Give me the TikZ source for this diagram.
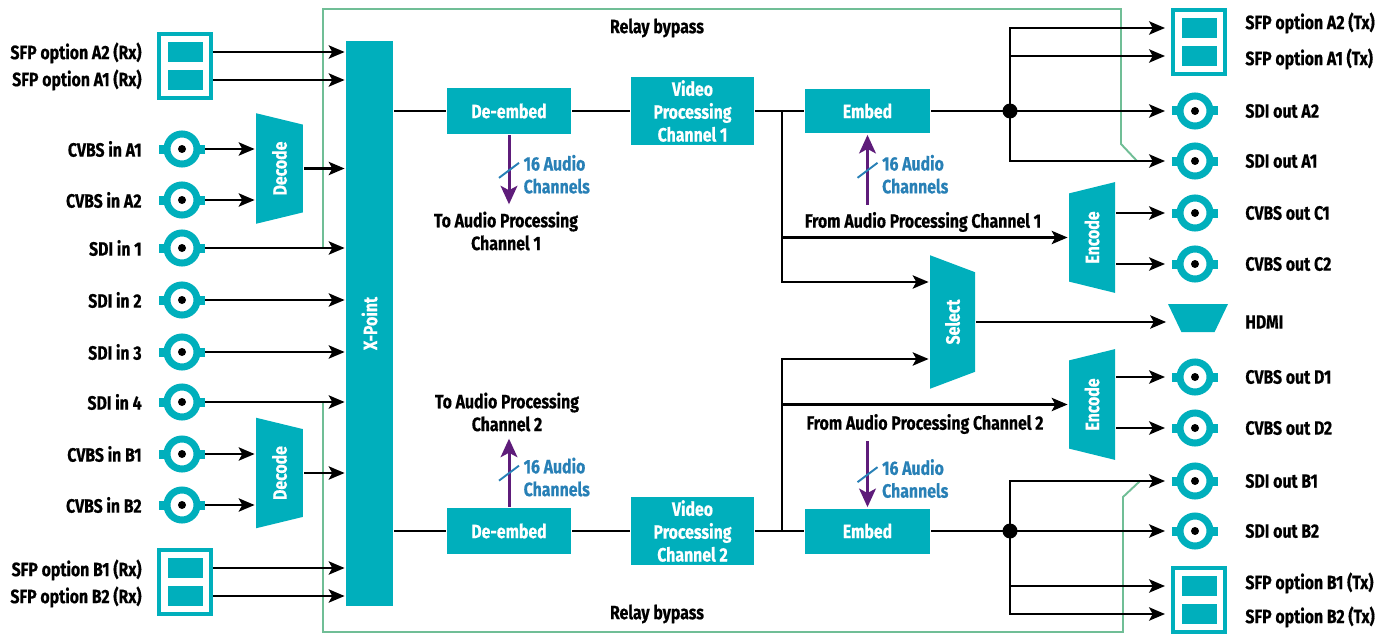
\documentclass[tikz,border=0pt]{standalone}
\usepackage{fontspec}
\setmainfont{Fira Sans}[FakeStretch=0.82, BoldFeatures={FakeBold=0.5}]
\usetikzlibrary{arrows.meta}
\usetikzlibrary{shapes.geometric}
\usetikzlibrary{calc}
\definecolor{boxcol}{RGB}{0,175,188}
\definecolor{audcol}{RGB}{94,28,122}
\definecolor{chcol}{RGB}{40,128,182}
\definecolor{relcol}{RGB}{112,190,150}

\tikzset{
  bnc/.pic={
    \fill[boxcol] (-23,-4.5) rectangle (23,4.5);
    \node[circle, draw=boxcol, fill=white, line width=4pt, minimum size=0.6cm, inner sep=0pt] (-c) {};
    \fill (0,0) circle (0.08cm);
    \coordinate (-o) at (23,0);
    \coordinate (-i) at (-30,0);
  },
  sfp/.pic={
    \node[draw=boxcol, fill=white, line width=2.3pt, minimum width=1.04cm, minimum height=1.28cm, inner sep=0pt] (-box) {};
    \fill[boxcol] (-17.5,-24) rectangle (17.5,-4);
    \fill[boxcol] (-17.5,4) rectangle (17.5,24);
    \coordinate (-oa) at (28,-14);
    \coordinate (-ob) at (28,14);
    \coordinate (-ia) at (-34,-14);
    \coordinate (-ib) at (-34,14);
  }
}

\begin{document}
\begin{tikzpicture}[x=0.02cm, y=-0.02cm,
    font=\fontsize{11}{13}\selectfont\bfseries,
    line width=1.6pt,
    arr/.style={-{Stealth[length=9pt, width=7.5pt, inset=2pt]}},
    aud/.style={draw=audcol, line width=1.7pt, -{Stealth[length=10.5pt, width=9.5pt, inset=2.5pt]}},
    chtick/.style={draw=chcol, line width=1.1pt},
    chlbl/.style={text=chcol, align=left, inner sep=0pt, yshift=-2.5pt},
    relay/.style={draw=relcol, line width=1.1pt},
    blk/.style={rectangle, fill=boxcol, text=white, inner sep=0pt, align=center},
    trap/.style={trapezium, trapezium stretches=true, rotate=90, fill=boxcol, text=white, inner sep=0pt},
    lbl/.style={align=center},
    lft/.style={anchor=east, inner sep=0pt},
    rgt/.style={anchor=west, inner sep=0pt}]
  \useasboundingbox (0,0) rectangle (1389,635);

  % relay bypass
  \draw[relay] (323,248) -- (323,9) -- (1121,9) -- (1121,144) -- (1137,161);
  \draw[relay] (323,403) -- (323,632) -- (1123,632) -- (1123,497) -- (1140,481);
  \node (relT) at (657,28) {Relay bypass};
  \node (relB) at (657,614) {Relay bypass};

  \node[blk, minimum width=0.94cm, minimum height=11.3cm] (xpt) at (369.5,323.5) {\rotatebox{90}{X-Point}};
  \node[trap, shape border rotate=180, trapezium angle=65, minimum width=2.22cm, minimum height=0.94cm] (decA) at (279.5,168.5) {Decode};
  \node[trap, shape border rotate=180, trapezium angle=65, minimum width=2.22cm, minimum height=0.94cm] (decB) at (279.5,473) {Decode};

  % inputs
  \foreach \n/\y/\t in {cvA1/149/CVBS in A1, cvA2/200/CVBS in A2, sdi1/248/SDI in 1, sdi2/300/SDI in 2,
      sdi3/352/SDI in 3, sdi4/402/SDI in 4, cvB1/454/CVBS in B1, cvB2/505/CVBS in B2}{
    \pic (\n) at (182,\y) {bnc};
    \node[lft] (\n-l) at (143,\y) {\t};
  }
  \foreach \n in {sdi1,sdi2,sdi3,sdi4}
    \draw[arr] (\n-o) -- (\n-o -| xpt.west);
  \foreach \n in {cvA1,cvA2}
    \draw[arr] (\n-o) -- (\n-o -| decA.north);
  \foreach \n in {cvB1,cvB2}
    \draw[arr] (\n-o) -- (\n-o -| decB.north);
  \draw[arr] (decA.south) -- (decA.south -| xpt.west);
  \draw[arr] (decB.south) -- (decB.south -| xpt.west);

  \pic (sfpA) at (185,66) {sfp};
  \pic (sfpB) at (185,582) {sfp};
  \node[lft] (sfpA-l1) at (143,53) {SFP option A2 (Rx)};
  \node[lft] (sfpA-l2) at (143,80) {SFP option A1 (Rx)};
  \node[lft] (sfpB-l1) at (143,570) {SFP option B1 (Rx)};
  \node[lft] (sfpB-l2) at (143,597) {SFP option B2 (Rx)};
  \foreach \n in {sfpA-oa,sfpA-ob,sfpB-oa,sfpB-ob}
    \draw[arr] (\n) -- (\n -| xpt.west);

  % channel 1
  \node[blk, minimum width=2.48cm, minimum height=0.92cm] (deA) at (509,111) {De-embed};
  \node[blk, minimum width=2.46cm, minimum height=1.38cm] (vpA) at (692.5,111) {Video\\Processing\\Channel 1};
  \node[blk, minimum width=2.5cm, minimum height=0.9cm] (emA) at (867.5,111) {Embed};
  \coordinate (brA) at (782,111);
  \coordinate (jA) at (1010,111);
  \draw (xpt.east |- deA) -- (deA) -- (vpA) -- (emA) -- (jA);
  \fill (jA) circle (0.15cm);

  % channel 2
  \node[blk, minimum width=2.48cm, minimum height=0.92cm] (deB) at (509,531) {De-embed};
  \node[blk, minimum width=2.46cm, minimum height=1.38cm] (vpB) at (692.5,531) {Video\\Processing\\Channel 2};
  \node[blk, minimum width=2.5cm, minimum height=0.9cm] (emB) at (867.5,531) {Embed};
  \coordinate (brB) at (782,531);
  \coordinate (jB) at (1010,531);
  \draw (xpt.east |- deB) -- (deB) -- (vpB) -- (emB) -- (jB);
  \fill (jB) circle (0.15cm);

  % outputs
  \foreach \n/\y/\t in {sdoA2/111/SDI out A2, sdoA1/161/SDI out A1, cvC1/213/CVBS out C1, cvC2/264/CVBS out C2,
      cvD1/377/CVBS out D1, cvD2/428/CVBS out D2, sdoB1/481/SDI out B1, sdoB2/531/SDI out B2}{
    \pic (\n) at (1195,\y) {bnc};
    \node[rgt] (\n-l) at (1244,\y) {\t};
  }
  \pic (sfpAt) at (1199,42) {sfp};
  \pic (sfpBt) at (1199,600) {sfp};
  \node[rgt] (sfpAt-l1) at (1244,23) {SFP option A2 (Tx)};
  \node[rgt] (sfpAt-l2) at (1244,59) {SFP option A1 (Tx)};
  \node[rgt] (sfpBt-l1) at (1244,583) {SFP option B1 (Tx)};
  \node[rgt] (sfpBt-l2) at (1244,617) {SFP option B2 (Tx)};

  \draw[arr] (jA) |- (sfpAt-ia);
  \draw[arr] (jA) |- (sfpAt-ib);
  \draw[arr] (jA) -- (sdoA2-i);
  \draw[arr] (jA) |- (sdoA1-i);
  \draw[arr] (jB) |- (sdoB1-i);
  \draw[arr] (jB) -- (sdoB2-i);
  \draw[arr] (jB) |- (sfpBt-ia);
  \draw[arr] (jB) |- (sfpBt-ib);

  % encode and select
  \node[trap, trapezium angle=66, minimum width=2.22cm, minimum height=0.92cm] (encC) at (1092,237.5) {Encode};
  \node[trap, trapezium angle=66, minimum width=2.22cm, minimum height=0.92cm] (encD) at (1092,404.5) {Encode};
  \node[trap, shape border rotate=180, trapezium angle=63, minimum width=2.68cm, minimum height=0.9cm] (sel) at (952.5,322) {Select};
  \node[trapezium, shape border rotate=180, trapezium stretches=true, trapezium angle=68, fill=boxcol,
      minimum width=1.2cm, minimum height=0.56cm, inner sep=1pt] (hdmi) at (1198,318) {};
  \node[rgt] (hdmi-l) at (1244,322) {HDMI};

  \draw[arr] (brA) |- ($(sel.north)+(0,-40)$);
  \draw[arr] (brB) |- ($(sel.north)+(0,37)$);
  \draw[arr] (brA |- encC.north) -- (encC.north);
  \draw[arr] (brB |- encD.north) -- (encD.north);
  \foreach \n in {cvC1,cvC2}
    \draw[arr] (\n-i -| encC.south) -- (\n-i);
  \foreach \n in {cvD1,cvD2}
    \draw[arr] (\n-i -| encD.south) -- (\n-i);
  \draw[arr, shorten >=4pt] (sel.south) -- (sel.south -| hdmi.west);

  % audio
  \node[lbl] (toA) at (506,231) {To Audio Processing\\Channel 1};
  \node[lbl] (toB) at (507,412) {To Audio Processing\\Channel 2};
  \node (frA) at (923,222) {From Audio Processing Channel 1};
  \node (frB) at (925,424) {From Audio Processing Channel 2};
  \draw[aud] (deA.south) -- (deA.south |- toA.north) coordinate[midway] (mA)
    node[midway, right=7.5pt, chlbl] {16 Audio\\Channels};
  \draw[aud] (deB.north) -- (deB.north |- toB.south) coordinate[midway] (mB)
    node[midway, right=7.5pt, chlbl] {16 Audio\\Channels};
  \draw[aud] (emA.south |- frA.north) -- (emA.south) coordinate[midway] (mC)
    node[midway, right=7.5pt, chlbl] {16 Audio\\Channels};
  \draw[aud] (emB.north |- frB.south) -- (emB.north) coordinate[midway] (mD)
    node[midway, right=7.5pt, chlbl] {16 Audio\\Channels};
  \foreach \m in {mA,mB,mC,mD}
    \draw[chtick] ($(\m)+(-10,8)$) -- ($(\m)+(10,-7)$);
\end{tikzpicture}
\end{document}
